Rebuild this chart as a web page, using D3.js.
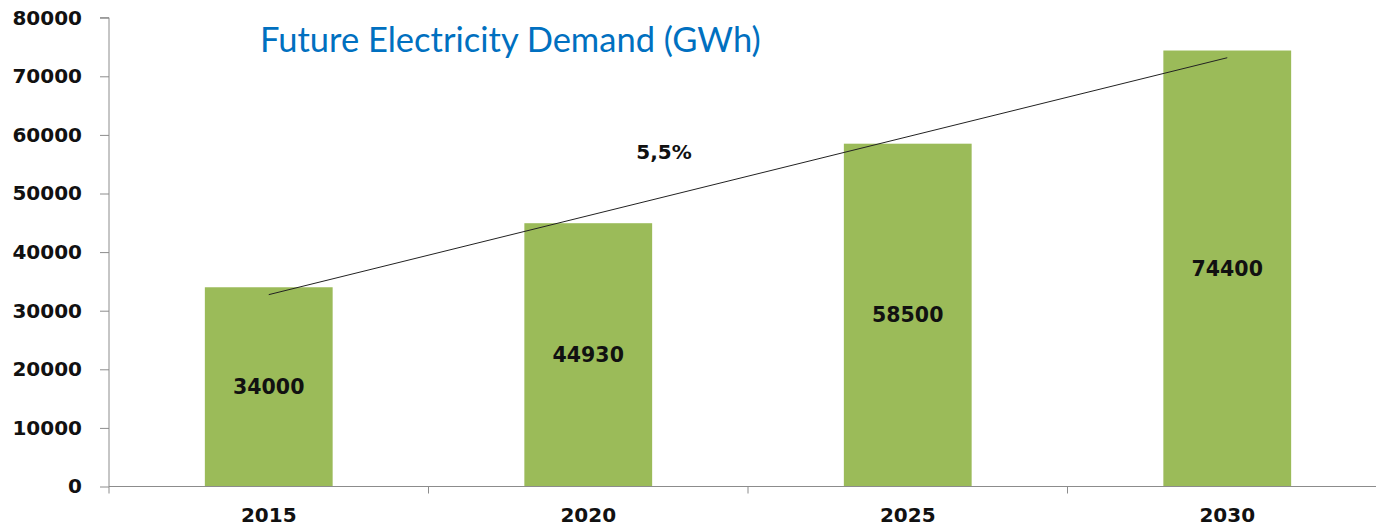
<!DOCTYPE html>
<html><head><meta charset="utf-8">
<script src="https://cdn.jsdelivr.net/npm/d3@7"></script>
<style>body{margin:0;background:#fff;overflow:hidden}</style>
</head><body>
<script>
const categories = ["2015", "2020", "2025", "2030"];
const values = [34000, 44930, 58500, 74400];
const trendValues = [32740, 73170];
const yTicks = [0, 10000, 20000, 30000, 40000, 50000, 60000, 70000, 80000];
const title = "Future Electricity Demand (GWh)";
const growthLabel = "5,5%";

const W = 1376, H = 531;
const svg = d3.select("body").append("svg").attr("width", W).attr("height", H);

const x0 = 109, bandW = 319.5;
const x = d3.scaleBand().domain(categories).range([x0, x0 + bandW * 4]).paddingInner(0).paddingOuter(0);
const y = d3.scaleLinear().domain([0, 80000]).range([486.5, 17.7]);

const barW = bandW * 0.4;
const bars = svg.append("g");
bars.selectAll("rect").data(values).join("rect")
  .attr("x", (d, i) => x(categories[i]) + x.bandwidth() / 2 - barW / 2)
  .attr("width", barW)
  .attr("y", d => y(d))
  .attr("height", d => y(0) - y(d))
  .attr("fill", "#9BBB59");

// y axis
const yAxis = d3.axisLeft(y).tickValues(yTicks).tickSize(9).tickPadding(18).tickFormat(d3.format("d"));
const gy = svg.append("g").attr("transform", `translate(${x0},0)`).call(yAxis);
gy.select(".domain").attr("stroke", "#8c8c8c").attr("d", `M-9,${y(80000)}H0V${y(0)}`);
gy.selectAll(".tick line").attr("stroke", "#8c8c8c");
gy.selectAll(".tick text").attr("font-family", "DejaVu Sans").attr("font-weight", "bold")
  .attr("font-size", 20).attr("fill", "#111");

// x axis
const gx = svg.append("g").attr("transform", `translate(0,${y(0)})`);
gx.append("line").attr("x1", x0).attr("x2", W).attr("y1", 0).attr("y2", 0).attr("stroke", "#8c8c8c");
const boundaries = categories.map(c => x(c));
gx.selectAll("line.tk").data(boundaries).join("line").attr("class", "tk")
  .attr("x1", d => d).attr("x2", d => d).attr("y1", 0).attr("y2", 7).attr("stroke", "#8c8c8c");
gx.selectAll("text").data(categories).join("text")
  .attr("x", d => x(d) + x.bandwidth() / 2).attr("y", 35.5)
  .attr("text-anchor", "middle").attr("font-family", "DejaVu Sans").attr("font-weight", "bold")
  .attr("font-size", 20).attr("fill", "#111").text(d => d);

// bar value labels
svg.append("g").selectAll("text").data(values).join("text")
  .attr("x", (d, i) => x(categories[i]) + x.bandwidth() / 2)
  .attr("y", d => y(d / 2))
  .attr("dy", "0.36em")
  .attr("text-anchor", "middle").attr("font-family", "DejaVu Sans").attr("font-weight", "bold")
  .attr("font-size", 20.5).attr("fill", "#111").text(d => d);

// trend line
const c0 = x(categories[0]) + x.bandwidth() / 2, c3 = x(categories[3]) + x.bandwidth() / 2;
svg.append("line").attr("x1", c0).attr("y1", y(trendValues[0])).attr("x2", c3).attr("y2", y(trendValues[1]))
  .attr("stroke", "#222").attr("stroke-width", 1);

svg.append("text").attr("x", 664).attr("y", 159).attr("text-anchor", "middle")
  .attr("font-family", "DejaVu Sans").attr("font-weight", "bold").attr("font-size", 20).attr("fill", "#111")
  .text(growthLabel);

svg.append("text").attr("x", 260).attr("y", 52)
  .attr("font-family", "Lato").attr("font-size", 34.5).attr("fill", "#0070C0").text(title);
</script>
</body></html>
